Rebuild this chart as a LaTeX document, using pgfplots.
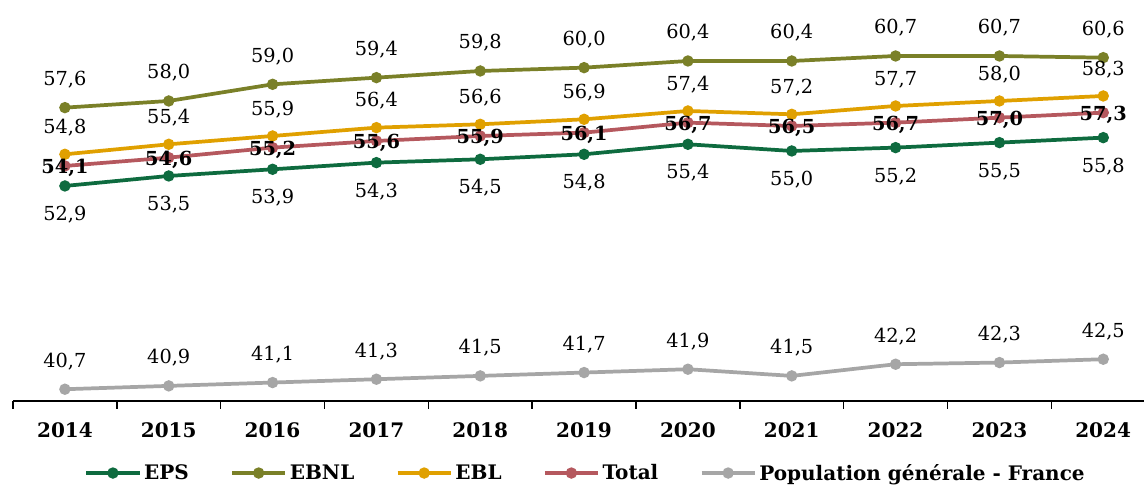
\documentclass[border=0pt]{standalone}
\usepackage{pgfplots}
\pgfplotsset{compat=1.18}
\usepackage{fontspec}
\setmainfont{DejaVu Serif}
\definecolor{cEPS}{RGB}{14,107,63}
\definecolor{cEBNL}{RGB}{122,128,40}
\definecolor{cEBL}{RGB}{224,160,0}
\definecolor{cTot}{RGB}{181,88,94}
\definecolor{cPop}{RGB}{166,166,166}
\begin{document}
\begin{tikzpicture}
\begin{axis}[
  at={(0,0)}, anchor=south west,
  scale only axis,
  x=77.9pt, y=12.5pt,
  xmin=2013.5, xmax=2024.395,
  ymin=40, ymax=64.06,
  clip=false,
  axis x line*=bottom,
  hide y axis,
  axis line style={black, line width=1.1pt, -},
  xtick={2014,...,2024},
  xticklabels={2014,2015,2016,2017,2018,2019,2020,2021,2022,2023,2024},
  major tick length=0pt,
  minor xtick={2013.5,2014.5,...,2023.5},
  minor tick length=6pt,
  tick align=outside,
  minor tick style={black, line width=1.1pt},
  xticklabel style={font=\fontsize{15}{17}\selectfont\bfseries, yshift=-13pt},
  legend columns=5,
  legend style={at={(axis description cs:0.5064,-0.18)}, anchor=center, draw=none,
    font=\fontsize{15}{17}\selectfont\bfseries,
    /tikz/every even column/.append style={column sep=29pt}},
  legend image code/.code={\draw[mark repeat=2,mark phase=2] plot coordinates {(0pt,0pt)(20pt,0pt)(40pt,0pt)};},
  every axis plot/.append style={line width=2.8pt, mark=*, mark size=2.8pt},
  nodes near coords={\pgfmathprintnumber[fixed,fixed zerofill,precision=1,use comma,assume math mode=true]{\pgfplotspointmeta}},
  point meta=y,
  nodes near coords style={font=\fontsize{14.5}{16}\selectfont, text=black, anchor=center, inner sep=0pt},
]
\addplot[color=cEPS, nodes near coords style={yshift=-21.5pt}] coordinates {
(2014,52.9)(2015,53.5)(2016,53.9)(2017,54.3)(2018,54.5)(2019,54.8)(2020,55.4)(2021,55.0)(2022,55.2)(2023,55.5)(2024,55.8)};
\addlegendentry{EPS}
\addplot[color=cEBNL, nodes near coords style={yshift=21pt}] coordinates {
(2014,57.6)(2015,58.0)(2016,59.0)(2017,59.4)(2018,59.8)(2019,60.0)(2020,60.4)(2021,60.4)(2022,60.7)(2023,60.7)(2024,60.6)};
\addlegendentry{EBNL}
\addplot[color=cEBL, nodes near coords style={yshift=20pt}] coordinates {
(2014,54.8)(2015,55.4)(2016,55.9)(2017,56.4)(2018,56.6)(2019,56.9)(2020,57.4)(2021,57.2)(2022,57.7)(2023,58.0)(2024,58.3)};
\addlegendentry{EBL}
\addplot[color=cTot, nodes near coords style={yshift=-1.5pt, font=\fontsize{14.5}{16}\selectfont\bfseries}] coordinates {
(2014,54.1)(2015,54.6)(2016,55.2)(2017,55.6)(2018,55.9)(2019,56.1)(2020,56.7)(2021,56.5)(2022,56.7)(2023,57.0)(2024,57.3)};
\addlegendentry{Total}
\addplot[color=cPop, nodes near coords style={yshift=21pt}] coordinates {
(2014,40.7)(2015,40.9)(2016,41.1)(2017,41.3)(2018,41.5)(2019,41.7)(2020,41.9)(2021,41.5)(2022,42.2)(2023,42.3)(2024,42.5)};
\addlegendentry{Population générale - France}
\end{axis}
\useasboundingbox (-9.75pt,-63pt) rectangle (849pt,300.75pt);
\end{tikzpicture}
\end{document}
